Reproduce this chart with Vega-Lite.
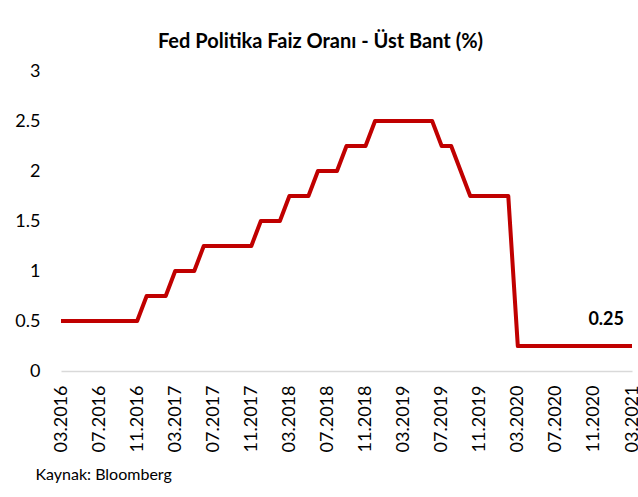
{
  "$schema": "https://vega.github.io/schema/vega-lite/v6.json",
  "autosize": {"type": "none"},
  "width": 571,
  "height": 300,
  "padding": {"left": 61, "top": 71, "right": 6, "bottom": 126},
  "background": "white",
  "config": {
    "font": "Lato",
    "view": {"stroke": null}
  },
  "title": {
    "text": "Fed Politika Faiz Oranı - Üst Bant (%)",
    "anchor": "middle",
    "frame": "group",
    "dx": -26,
    "offset": 10,
    "fontSize": 20,
    "fontWeight": "bold",
    "color": "#000000",
    "font": "Lato"
  },
  "data": {
    "values": [
      {"m": "03.2016", "v": 0.5}, {"m": "04.2016", "v": 0.5}, {"m": "05.2016", "v": 0.5},
      {"m": "06.2016", "v": 0.5}, {"m": "07.2016", "v": 0.5}, {"m": "08.2016", "v": 0.5},
      {"m": "09.2016", "v": 0.5}, {"m": "10.2016", "v": 0.5}, {"m": "11.2016", "v": 0.5},
      {"m": "12.2016", "v": 0.75}, {"m": "01.2017", "v": 0.75}, {"m": "02.2017", "v": 0.75},
      {"m": "03.2017", "v": 1}, {"m": "04.2017", "v": 1}, {"m": "05.2017", "v": 1},
      {"m": "06.2017", "v": 1.25}, {"m": "07.2017", "v": 1.25}, {"m": "08.2017", "v": 1.25},
      {"m": "09.2017", "v": 1.25}, {"m": "10.2017", "v": 1.25}, {"m": "11.2017", "v": 1.25},
      {"m": "12.2017", "v": 1.5}, {"m": "01.2018", "v": 1.5}, {"m": "02.2018", "v": 1.5},
      {"m": "03.2018", "v": 1.75}, {"m": "04.2018", "v": 1.75}, {"m": "05.2018", "v": 1.75},
      {"m": "06.2018", "v": 2}, {"m": "07.2018", "v": 2}, {"m": "08.2018", "v": 2},
      {"m": "09.2018", "v": 2.25}, {"m": "10.2018", "v": 2.25}, {"m": "11.2018", "v": 2.25},
      {"m": "12.2018", "v": 2.5}, {"m": "01.2019", "v": 2.5}, {"m": "02.2019", "v": 2.5},
      {"m": "03.2019", "v": 2.5}, {"m": "04.2019", "v": 2.5}, {"m": "05.2019", "v": 2.5},
      {"m": "06.2019", "v": 2.5}, {"m": "07.2019", "v": 2.25}, {"m": "08.2019", "v": 2.25},
      {"m": "09.2019", "v": 2}, {"m": "10.2019", "v": 1.75}, {"m": "11.2019", "v": 1.75},
      {"m": "12.2019", "v": 1.75}, {"m": "01.2020", "v": 1.75}, {"m": "02.2020", "v": 1.75},
      {"m": "03.2020", "v": 0.25}, {"m": "04.2020", "v": 0.25}, {"m": "05.2020", "v": 0.25},
      {"m": "06.2020", "v": 0.25}, {"m": "07.2020", "v": 0.25}, {"m": "08.2020", "v": 0.25},
      {"m": "09.2020", "v": 0.25}, {"m": "10.2020", "v": 0.25}, {"m": "11.2020", "v": 0.25},
      {"m": "12.2020", "v": 0.25}, {"m": "01.2021", "v": 0.25}, {"m": "02.2021", "v": 0.25},
      {"m": "03.2021", "v": 0.25}
    ]
  },
  "encoding": {
    "x": {
      "field": "m",
      "type": "ordinal",
      "sort": null,
      "scale": {"type": "point", "padding": 0},
      "axis": {
        "values": ["03.2016", "07.2016", "11.2016", "03.2017", "07.2017", "11.2017", "03.2018", "07.2018", "11.2018", "03.2019", "07.2019", "11.2019", "03.2020", "07.2020", "11.2020", "03.2021"],
        "labelAngle": -90,
        "labelFontSize": 18,
        "labelColor": "#000000",
        "labelPadding": 14,
        "labelOverlap": false,
        "ticks": false,
        "grid": false,
        "domainColor": "#D9D9D9",
        "domainWidth": 1.5,
        "title": "Kaynak: Bloomberg",
        "titleAnchor": "start",
        "titleAlign": "left",
        "titleX": -26,
        "titleY": 108,
        "titleBaseline": "alphabetic",
        "titleFontSize": 16,
        "titleFontWeight": "normal",
        "titleColor": "#000000"
      }
    },
    "y": {
      "field": "v",
      "type": "quantitative",
      "scale": {"domain": [0, 3]},
      "axis": {
        "values": [0, 0.5, 1, 1.5, 2, 2.5, 3],
        "format": "~g",
        "labelFontSize": 18,
        "labelColor": "#000000",
        "labelPadding": 21,
        "ticks": false,
        "domain": false,
        "grid": false,
        "title": null
      }
    }
  },
  "layer": [
    {
      "mark": {"type": "line", "color": "#C00000", "strokeWidth": 4, "strokeJoin": "round"}
    },
    {
      "transform": [{"filter": "datum.m === '03.2021'"}],
      "mark": {"type": "text", "align": "right", "baseline": "middle", "dx": -8, "dy": -26, "fontSize": 18, "fontWeight": "bold", "color": "#000000"},
      "encoding": {"text": {"field": "v", "type": "quantitative", "format": ".2f"}}
    }
  ]
}
